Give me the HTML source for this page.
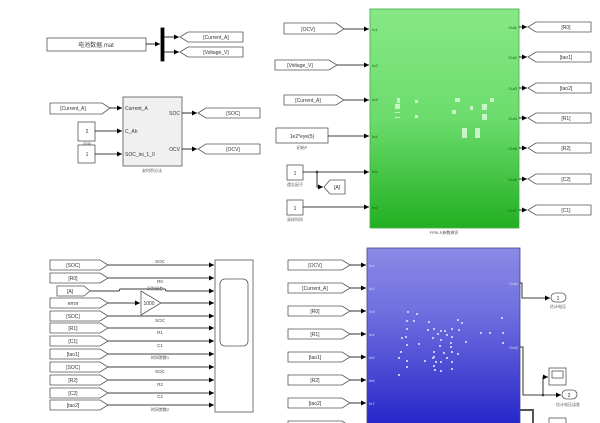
<!DOCTYPE html>
<html><head><meta charset="utf-8"><style>html,body{margin:0;padding:0;background:#fff}svg{display:block}text{font-family:"Liberation Sans","Noto Sans CJK SC",sans-serif}</style></head><body>
<svg width="600" height="423" viewBox="0 0 600 423" xmlns="http://www.w3.org/2000/svg">
<defs>
<marker id="a" markerWidth="6" markerHeight="6" refX="5" refY="3" orient="auto" markerUnits="userSpaceOnUse"><path d="M0,0.5 L5,3 L0,5.5z" fill="#000"/></marker>
<linearGradient id="g" x1="0" y1="0" x2="0" y2="1"><stop offset="0" stop-color="#86e886"/><stop offset="0.5" stop-color="#6cdc6c"/><stop offset="1" stop-color="#22b022"/></linearGradient>
<linearGradient id="b" x1="0" y1="0" x2="0" y2="1"><stop offset="0" stop-color="#8a8ae6"/><stop offset="0.35" stop-color="#7070e0"/><stop offset="1" stop-color="#2424c8"/></linearGradient>
</defs>
<g stroke="#555" stroke-width="0.8" fill="#fff" font-size="5" text-anchor="middle">
<!-- top-left -->
<rect x="47" y="38" width="99" height="13"/>
<text x="96" y="47" stroke="none" fill="#444" font-size="6">电池数据.mat</text>
<line x1="146" y1="44" x2="160" y2="44" stroke="#000" marker-end="url(#a)"/>
<rect x="161" y="28" width="3" height="33" fill="#000" stroke="#000"/>
<line x1="164" y1="37" x2="179" y2="37" stroke="#000" marker-end="url(#a)"/>
<line x1="164" y1="52" x2="179" y2="52" stroke="#000" marker-end="url(#a)"/>
<polygon points="180,37 188,32 243,32 243,42 188,42"/>
<text x="216" y="39" stroke="none" fill="#333">[Current_A]</text>
<polygon points="180,52 188,47 243,47 243,57 188,57"/>
<text x="216" y="54" stroke="none" fill="#333">[Voltage_V]</text>
<!-- SOC block -->
<polygon points="50,103 102,103 110,108 102,114 50,114"/>
<text x="73" y="110" stroke="none" fill="#333">[Current_A]</text>
<line x1="110" y1="108" x2="122" y2="108" stroke="#000" marker-end="url(#a)"/>
<rect x="78" y="122" width="17" height="19"/><text x="87" y="133" stroke="none" fill="#333">2</text>
<text x="87" y="146" stroke="none" fill="#555" font-size="4">容量</text>
<rect x="78" y="145" width="17" height="18"/><text x="87" y="156" stroke="none" fill="#333">1</text>
<line x1="95" y1="131" x2="122" y2="131" stroke="#000" marker-end="url(#a)"/>
<line x1="95" y1="154" x2="122" y2="154" stroke="#000" marker-end="url(#a)"/>
<rect x="123" y="97" width="59" height="69" fill="#f0f0f0"/>
<g stroke="none" fill="#333" text-anchor="start"><text x="125" y="110">Current_A</text><text x="125" y="133">C_Ah</text><text x="125" y="156">SOC_ini_1_0</text></g>
<g stroke="none" fill="#333" text-anchor="end"><text x="180" y="115">SOC</text><text x="180" y="151">OCV</text></g>
<text x="152" y="172" stroke="none" fill="#555" font-size="4">安时积分法</text>
<line x1="182" y1="113" x2="197" y2="113" stroke="#000" marker-end="url(#a)"/>
<line x1="182" y1="149" x2="197" y2="149" stroke="#000" marker-end="url(#a)"/>
<polygon points="198,113 206,108 260,108 260,118 206,118"/><text x="233" y="115" stroke="none" fill="#333">[SOC]</text>
<polygon points="198,149 206,144 260,144 260,154 206,154"/><text x="233" y="151" stroke="none" fill="#333">[OCV]</text>

<!-- green block -->
<rect x="370" y="9" width="149" height="219" fill="url(#g)" stroke="#4a4"/>
<text x="444" y="234" stroke="none" fill="#444" font-size="4">FFRLS参数辨识</text>
<g fill="#c8f5c8" stroke="none"><rect x="397" y="98" width="3" height="5"/><rect x="395" y="104" width="5" height="5"/><rect x="415" y="100" width="3" height="3"/><rect x="455" y="98" width="5" height="4"/><rect x="470" y="106" width="3" height="4"/><rect x="490" y="98" width="4" height="4"/><rect x="482" y="104" width="5" height="6"/><rect x="482" y="114" width="5" height="6"/><rect x="462" y="128" width="5" height="10"/><rect x="475" y="128" width="5" height="10"/><rect x="395" y="112" width="5" height="1"/><rect x="395" y="117" width="5" height="1"/><rect x="415" y="115" width="3" height="3"/><rect x="452" y="110" width="4" height="4"/></g>
<g stroke="none" fill="#1a5a1a" font-size="4" text-anchor="start"><text x="372" y="31">In1</text><text x="372" y="67">In2</text><text x="372" y="101">In3</text><text x="372" y="138">In4</text><text x="372" y="173">In5</text><text x="372" y="209">In6</text></g>
<g stroke="none" fill="#1a5a1a" font-size="4" text-anchor="end"><text x="517" y="29">Out1</text><text x="517" y="59">Out2</text><text x="517" y="90">Out3</text><text x="517" y="120">Out4</text><text x="517" y="150">Out5</text><text x="517" y="181">Out6</text><text x="517" y="212">Out7</text></g>
<polygon points="284,23 336,23 344,29 336,34 284,34"/><text x="308" y="31" stroke="none" fill="#333">[OCV]</text>
<polygon points="275,60 329,60 337,65 329,70 275,70"/><text x="300" y="67" stroke="none" fill="#333">[Voltage_V]</text>
<polygon points="284,95 336,95 344,100 336,105 284,105"/><text x="308" y="102" stroke="none" fill="#333">[Current_A]</text>
<rect x="276" y="128" width="52" height="15"/><text x="302" y="138" stroke="none" fill="#333">1e2*eye(5)</text>
<text x="302" y="149" stroke="none" fill="#555" font-size="4">初始P</text>
<rect x="287" y="165" width="16" height="15"/><text x="295" y="175" stroke="none" fill="#333">1</text>
<text x="295" y="186" stroke="none" fill="#555" font-size="4">遗忘因子</text>
<rect x="287" y="200" width="16" height="15"/><text x="295" y="210" stroke="none" fill="#333">1</text>
<text x="295" y="221" stroke="none" fill="#555" font-size="4">采样时间</text>
<g stroke="#000" fill="none" marker-end="url(#a)">
<line x1="344" y1="29" x2="369" y2="29"/><line x1="337" y1="65" x2="369" y2="65"/><line x1="344" y1="100" x2="369" y2="100"/><line x1="328" y1="136" x2="369" y2="136"/><line x1="303" y1="172" x2="369" y2="172"/><line x1="303" y1="207" x2="369" y2="207"/>
<polyline points="317,172 317,187 323,187"/>
<line x1="519" y1="27" x2="527" y2="27"/><line x1="519" y1="57" x2="527" y2="57"/><line x1="519" y1="88" x2="527" y2="88"/><line x1="519" y1="118" x2="527" y2="118"/><line x1="519" y1="148" x2="527" y2="148"/><line x1="519" y1="179" x2="527" y2="179"/><line x1="519" y1="210" x2="527" y2="210"/>
</g>
<circle cx="317" cy="172" r="1" fill="#000"/>
<polygon points="324,187 330,180 345,180 345,194 330,194"/><text x="337" y="189" stroke="none" fill="#333">[A]</text>
<polygon points="528,27 536,22 591,22 591,32 536,32"/><text x="566" y="29" stroke="none" fill="#333">[R0]</text>
<polygon points="528,57 536,52 591,52 591,62 536,62"/><text x="566" y="59" stroke="none" fill="#333">[tao1]</text>
<polygon points="528,88 536,83 591,83 591,93 536,93"/><text x="566" y="90" stroke="none" fill="#333">[tao2]</text>
<polygon points="528,118 536,113 591,113 591,123 536,123"/><text x="566" y="120" stroke="none" fill="#333">[R1]</text>
<polygon points="528,148 536,143 591,143 591,153 536,153"/><text x="566" y="150" stroke="none" fill="#333">[R2]</text>
<polygon points="528,179 536,174 591,174 591,184 536,184"/><text x="566" y="181" stroke="none" fill="#333">[C2]</text>
<polygon points="528,210 536,205 591,205 591,215 536,215"/><text x="566" y="212" stroke="none" fill="#333">[C1]</text>

<!-- bottom-left scope -->
<rect x="215" y="260" width="38" height="152"/>
<rect x="220" y="279" width="28" height="67" rx="5"/>
<g stroke="#000" fill="none" marker-end="url(#a)">
<line x1="108" y1="265" x2="214" y2="265"/><line x1="108" y1="278" x2="214" y2="278"/>
<polyline points="90,291 119,291 120,289 165,289 166,291 214,291"/>
<line x1="108" y1="303" x2="140" y2="303"/><line x1="161" y1="303" x2="214" y2="303"/>
<line x1="108" y1="316" x2="214" y2="316"/><line x1="108" y1="328" x2="214" y2="328"/><line x1="108" y1="341" x2="214" y2="341"/><line x1="108" y1="354" x2="214" y2="354"/><line x1="108" y1="367" x2="214" y2="367"/><line x1="108" y1="380" x2="214" y2="380"/><line x1="108" y1="393" x2="214" y2="393"/><line x1="108" y1="405" x2="214" y2="405"/>
</g>
<polygon points="141,291 161,303 141,315"/><text x="149" y="305" stroke="none" fill="#333">1000</text>
<g stroke="none" fill="#444" font-size="4.5">
<text x="160" y="263">SOC</text><text x="160" y="283">R0</text><text x="155" y="290" font-size="4">识别误差</text><text x="160" y="322">SOC</text><text x="160" y="334">R1</text><text x="160" y="347">C1</text><text x="160" y="359" font-size="4">时间常数1</text><text x="160" y="373">SOC</text><text x="160" y="386">R2</text><text x="160" y="398">C2</text><text x="160" y="411" font-size="4">时间常数2</text>
</g>
<polygon points="50,260 100,260 108,265 100,270 50,270"/><text x="73" y="267" stroke="none" fill="#333">[SOC]</text>
<polygon points="50,273 100,273 108,278 100,283 50,283"/><text x="73" y="280" stroke="none" fill="#333">[R0]</text>
<polygon points="57,286 84,286 90,291 84,296 57,296"/><text x="70" y="293" stroke="none" fill="#333">[A]</text>
<polygon points="50,298 100,298 108,303 100,308 50,308"/><text x="73" y="305" stroke="none" fill="#333">error</text>
<polygon points="50,311 100,311 108,316 100,321 50,321"/><text x="73" y="318" stroke="none" fill="#333">[SOC]</text>
<polygon points="50,323 100,323 108,328 100,333 50,333"/><text x="73" y="330" stroke="none" fill="#333">[R1]</text>
<polygon points="50,336 100,336 108,341 100,346 50,346"/><text x="73" y="343" stroke="none" fill="#333">[C1]</text>
<polygon points="50,349 100,349 108,354 100,359 50,359"/><text x="73" y="356" stroke="none" fill="#333">[tao1]</text>
<polygon points="50,362 100,362 108,367 100,372 50,372"/><text x="73" y="369" stroke="none" fill="#333">[SOC]</text>
<polygon points="50,375 100,375 108,380 100,385 50,385"/><text x="73" y="382" stroke="none" fill="#333">[R2]</text>
<polygon points="50,388 100,388 108,393 100,398 50,398"/><text x="73" y="395" stroke="none" fill="#333">[C2]</text>
<polygon points="50,400 100,400 108,405 100,410 50,410"/><text x="73" y="407" stroke="none" fill="#333">[tao2]</text>

<!-- blue block -->
<rect x="367" y="248" width="153" height="180" fill="url(#b)" stroke="#448"/>
<g fill="#c8c8ff" stroke="none"><rect x="406" y="320" width="2" height="2"/><rect x="406" y="328" width="2" height="2"/><rect x="405" y="336" width="2" height="2"/><rect x="406" y="344" width="2" height="2"/><rect x="406" y="360" width="2" height="2"/><rect x="406" y="366" width="2" height="2"/><rect x="413" y="320" width="2" height="2"/><rect x="401" y="337" width="2" height="2"/><rect x="398" y="357" width="2" height="2"/><rect x="400" y="351" width="2" height="2"/><rect x="398" y="374" width="2" height="2"/><rect x="428" y="321" width="2" height="2"/><rect x="427" y="329" width="2" height="2"/><rect x="432" y="337" width="2" height="2"/><rect x="433" y="356" width="2" height="2"/><rect x="435" y="361" width="2" height="2"/><rect x="437" y="333" width="2" height="2"/><rect x="440" y="339" width="2" height="2"/><rect x="444" y="330" width="2" height="2"/><rect x="433" y="328" width="2" height="2"/><rect x="432" y="357" width="2" height="2"/><rect x="424" y="360" width="2" height="2"/><rect x="440" y="361" width="2" height="2"/><rect x="446" y="334" width="2" height="2"/><rect x="450" y="342" width="2" height="2"/><rect x="450" y="346" width="2" height="2"/><rect x="443" y="352" width="2" height="2"/><rect x="446" y="357" width="2" height="2"/><rect x="433" y="351" width="2" height="2"/><rect x="433" y="365" width="2" height="2"/><rect x="440" y="330" width="2" height="2"/><rect x="440" y="370" width="2" height="2"/><rect x="434" y="369" width="2" height="2"/><rect x="451" y="328" width="2" height="2"/><rect x="451" y="336" width="2" height="2"/><rect x="451" y="351" width="2" height="2"/><rect x="458" y="329" width="2" height="2"/><rect x="461" y="322" width="2" height="2"/><rect x="457" y="353" width="2" height="2"/><rect x="451" y="361" width="2" height="2"/><rect x="451" y="368" width="2" height="2"/><rect x="418" y="343" width="2" height="2"/><rect x="416" y="313" width="2" height="2"/><rect x="407" y="311" width="2" height="2"/><rect x="439" y="345" width="2" height="2"/><rect x="480" y="332" width="2" height="2"/><rect x="489" y="332" width="2" height="2"/><rect x="501" y="317" width="2" height="2"/><rect x="502" y="332" width="2" height="2"/><rect x="502" y="342" width="2" height="2"/><rect x="465" y="341" width="2" height="2"/><rect x="457" y="319" width="2" height="2"/></g>
<g stroke="none" fill="#ddd" font-size="4" text-anchor="start"><text x="369" y="267">In1</text><text x="369" y="290">In2</text><text x="369" y="313">In3</text><text x="369" y="336">In4</text><text x="369" y="359">In5</text><text x="369" y="382">In6</text><text x="369" y="405">In7</text></g>
<g stroke="none" fill="#ddd" font-size="4" text-anchor="end"><text x="518" y="285">Out1</text><text x="518" y="349">Out2</text></g>
<polygon points="288,260 342,260 350,265 342,270 288,270"/><text x="315" y="267" stroke="none" fill="#333">[OCV]</text>
<polygon points="288,283 342,283 350,288 342,293 288,293"/><text x="315" y="290" stroke="none" fill="#333">[Current_A]</text>
<polygon points="288,306 342,306 350,311 342,316 288,316"/><text x="315" y="313" stroke="none" fill="#333">[R0]</text>
<polygon points="288,329 342,329 350,334 342,339 288,339"/><text x="315" y="336" stroke="none" fill="#333">[R1]</text>
<polygon points="288,352 342,352 350,357 342,362 288,362"/><text x="315" y="359" stroke="none" fill="#333">[tao1]</text>
<polygon points="288,375 342,375 350,380 342,385 288,385"/><text x="315" y="382" stroke="none" fill="#333">[R2]</text>
<polygon points="288,398 342,398 350,403 342,408 288,408"/><text x="315" y="405" stroke="none" fill="#333">[tao2]</text>
<polygon points="288,421 342,421 350,426 342,431 288,431"/>
<g stroke="#000" fill="none" marker-end="url(#a)">
<line x1="350" y1="265" x2="366" y2="265"/><line x1="350" y1="288" x2="366" y2="288"/><line x1="350" y1="311" x2="366" y2="311"/><line x1="350" y1="334" x2="366" y2="334"/><line x1="350" y1="357" x2="366" y2="357"/><line x1="350" y1="380" x2="366" y2="380"/><line x1="350" y1="403" x2="366" y2="403"/>
<polyline points="520,283 522,283 522,298 550,298"/>
<polyline points="520,347 523,347 523,395 561,395"/>
<polyline points="543,395 543,377 548,377"/>
</g>
<circle cx="543" cy="395" r="1" fill="#000"/>
<polyline points="520,410 533,410 533,423" fill="none" stroke="#555" stroke-width="2"/>
<rect x="551" y="293" width="15" height="9" rx="4.5"/><text x="558" y="300" stroke="none" fill="#333">1</text>
<text x="558" y="308" stroke="none" fill="#555" font-size="4">估计电压</text>
<rect x="562" y="390" width="15" height="9" rx="4.5"/><text x="569" y="397" stroke="none" fill="#333">2</text>
<text x="568" y="406" stroke="none" fill="#555" font-size="4">估计电压误差</text>
<rect x="549" y="368" width="17" height="17"/><rect x="552" y="371" width="11" height="7" fill="#fff"/>
<rect x="549" y="418" width="17" height="10"/>
</g>
</svg>
</body></html>
